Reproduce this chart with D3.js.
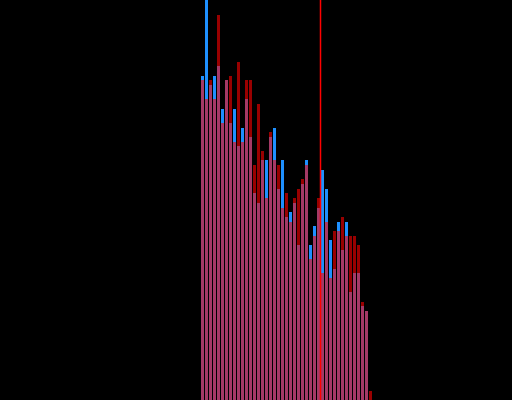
<!DOCTYPE html>
<html>
<head>
<meta charset="utf-8">
<script src="https://cdn.jsdelivr.net/npm/d3@7"></script>
<style>
  html, body { margin: 0; padding: 0; background: #000; }
  svg { display: block; }
</style>
</head>
<body>
<script>
// Bin indices (categories)
const bins = d3.range(43);
// Series A (blue) values per bin
const seriesA = [324, 400, 315, 324, 334, 291, 320, 277, 291, 254, 272, 301, 263, 207, 197, 240, 240, 263, 272, 211, 240,
                 183, 188, 197, 155, 216, 240, 155, 174, 192, 230, 211, 160, 131, 178, 150, 178, 108, 127, 127, 94, 89, 0];
// Series B (red) values per bin
const seriesB = [320, 301, 320, 301, 385, 277, 320, 324, 258, 338, 258, 320, 320, 235, 296, 249, 202, 268, 240, 235, 192,
                 207, 178, 202, 211, 221, 235, 141, 164, 202, 127, 178, 122, 169, 169, 183, 164, 164, 164, 155, 98, 89, 9];
// Reference marker position (in bin units)
const markerValue = [29.75];

const W = 512, H = 400;
const svg = d3.select("body").append("svg").attr("width", W).attr("height", H)
  .style("background", "#000");

const x = d3.scaleLinear().domain([0, bins.length]).range([201, 201 + 4 * bins.length]);
const y = d3.scaleLinear().domain([0, d3.max(seriesA)]).range([H, 0]);
const bw = x(1) - x(0) - 1;

svg.append("g").selectAll("rect").data(bins).join("rect")
  .attr("x", d => x(d)).attr("width", bw)
  .attr("y", d => y(seriesA[d])).attr("height", d => H - y(seriesA[d]))
  .attr("fill", "#1e90ff");

svg.append("g").selectAll("rect").data(bins).join("rect")
  .attr("x", d => x(d)).attr("width", bw)
  .attr("y", d => y(seriesB[d])).attr("height", d => H - y(seriesB[d]))
  .attr("fill", "#ff0000").attr("fill-opacity", 0.6);

svg.append("g").selectAll("line").data(markerValue).join("line")
  .attr("x1", d => Math.round(x(d)) + 0.5).attr("x2", d => Math.round(x(d)) + 0.5)
  .attr("y1", 0).attr("y2", H)
  .attr("stroke", "#ff0000").attr("stroke-width", 1.5);
</script>
</body>
</html>
